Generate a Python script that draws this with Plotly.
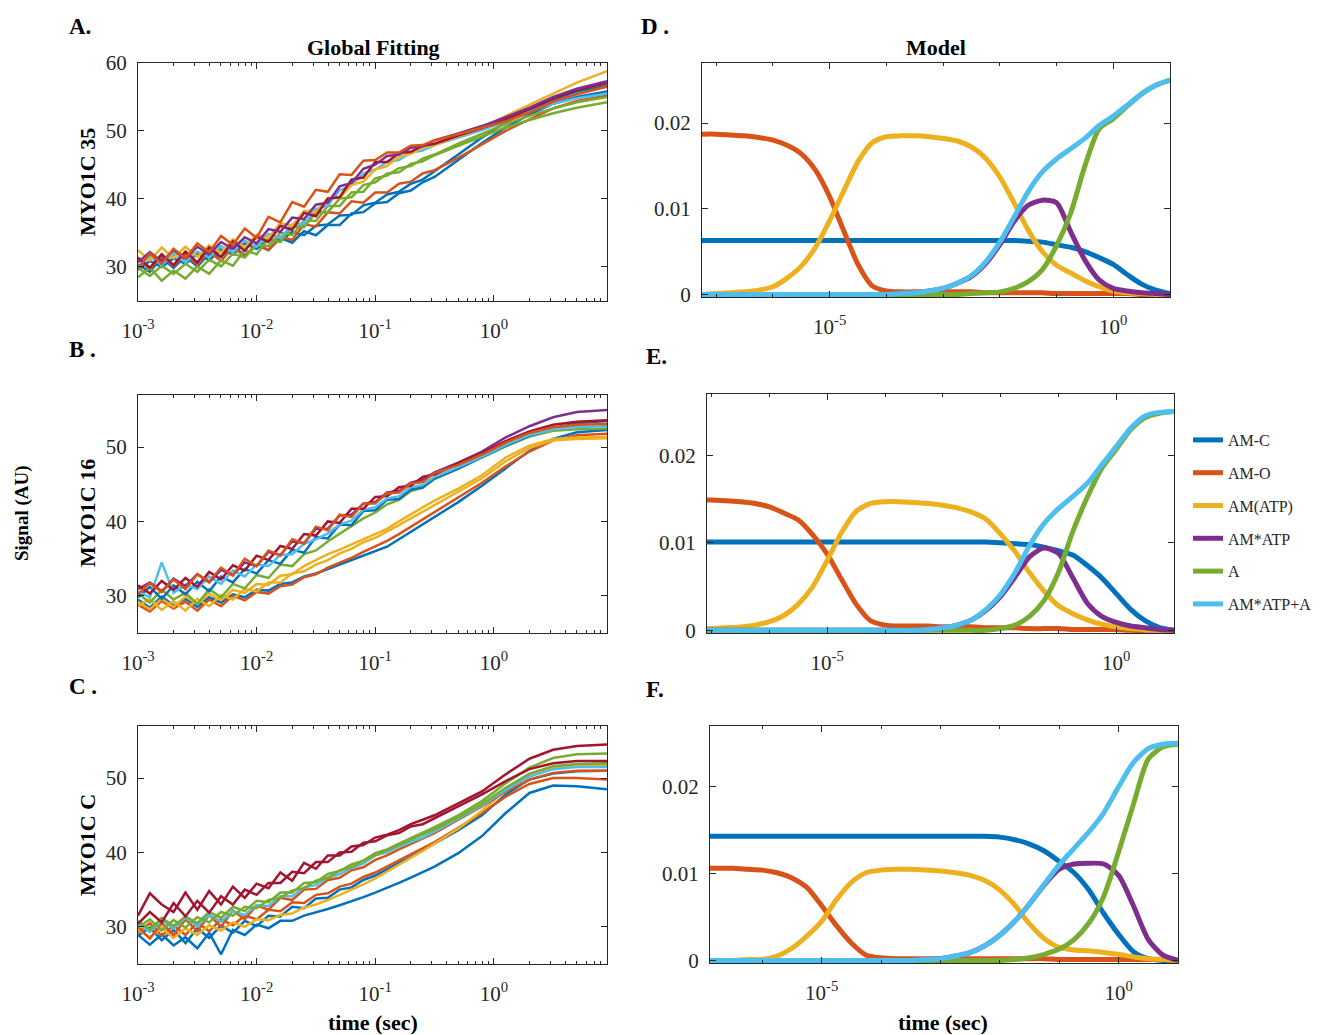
import plotly.graph_objects as go

# ---------------- data: left column (signal traces) ----------------
T_LEFT_LOG = [-3.0, -2.9, -2.8, -2.7, -2.6, -2.5, -2.4, -2.3, -2.2, -2.1, -2.0, -1.9, -1.8, -1.7,
              -1.6, -1.5, -1.4, -1.3, -1.2, -1.1, -1.0, -0.9, -0.8, -0.7, -0.6, -0.5, -0.3, -0.1,
              0.1, 0.3, 0.5, 0.7, 0.954]

A_BLUE1 = [30.3, 29.2, 31.3, 29.8, 31.5, 30.0, 31.9, 31.4, 33.1, 31.6, 33.1, 32.4, 34.2, 33.5, 35.2, 34.6, 36.1, 36.1, 37.8, 38.0, 39.3, 39.5, 40.8, 41.2, 42.4, 43.2, 45.7, 48.2, 50.5, 52.4, 54.0, 55.0, 55.8]
A_BLUE2 = [29.5, 30.8, 29.9, 31.2, 30.4, 31.9, 30.9, 32.5, 31.8, 33.4, 32.6, 34.0, 33.7, 35.1, 34.6, 36.0, 36.2, 37.5, 37.6, 39.0, 39.4, 40.6, 41.0, 42.2, 42.8, 44.0, 46.5, 49.0, 51.3, 53.1, 54.6, 55.8, 56.6]
A_ORANGE_LOW = [31.2, 29.6, 31.5, 30.1, 31.8, 30.3, 32.2, 30.8, 32.8, 31.5, 33.3, 32.4, 34.4, 33.9, 36.2, 35.9, 38.0, 37.8, 39.6, 39.4, 40.9, 40.9, 42.2, 42.5, 43.7, 44.2, 46.0, 48.0, 50.0, 51.7, 53.3, 54.4, 55.2]
A_GREEN1 = [28.4, 29.8, 27.9, 29.4, 28.2, 30.0, 28.9, 30.9, 30.1, 32.4, 31.8, 34.1, 33.6, 35.9, 35.8, 38.0, 38.0, 40.0, 40.2, 42.0, 42.4, 43.7, 43.9, 45.1, 45.5, 46.4, 47.8, 49.2, 50.5, 51.6, 52.6, 53.4, 54.2]
A_GREEN2 = [29.8, 28.6, 30.1, 28.9, 30.4, 29.2, 31.0, 30.0, 31.9, 31.3, 33.2, 33.0, 35.0, 34.6, 36.8, 36.7, 38.9, 38.9, 40.9, 41.0, 43.0, 43.4, 44.5, 44.8, 45.9, 46.5, 48.1, 49.6, 51.0, 52.2, 53.3, 54.2, 55.0]
A_LBLUE = [29.9, 31.5, 30.2, 31.9, 30.6, 32.2, 31.3, 33.0, 32.1, 33.8, 32.9, 34.8, 34.2, 36.2, 36.3, 38.5, 39.0, 41.2, 42.0, 43.7, 44.3, 45.4, 45.7, 46.8, 47.1, 47.9, 49.0, 50.1, 51.4, 52.8, 54.0, 54.8, 55.5]
A_YELLOW = [32.4, 30.9, 32.8, 31.2, 32.9, 31.4, 33.1, 32.0, 34.0, 32.8, 34.7, 34.2, 36.4, 36.0, 38.2, 38.0, 40.1, 40.1, 42.0, 42.5, 44.3, 44.8, 46.2, 46.6, 47.5, 47.9, 49.2, 50.4, 52.2, 53.9, 55.5, 57.1, 58.8]
A_DRED = [31.3, 29.8, 31.8, 30.2, 32.2, 30.6, 32.8, 31.4, 33.7, 32.3, 34.4, 33.6, 36.0, 35.4, 37.9, 37.4, 40.0, 40.2, 42.8, 43.1, 45.4, 45.4, 46.7, 46.9, 47.8, 48.1, 49.3, 50.4, 51.7, 53.2, 54.8, 56.0, 57.0]
A_PURPLE = [30.6, 32.1, 30.7, 32.4, 31.1, 32.9, 31.8, 33.6, 32.6, 34.3, 33.4, 35.5, 35.1, 37.2, 37.0, 39.1, 39.4, 41.8, 42.3, 44.4, 45.0, 46.3, 46.5, 47.5, 47.7, 48.6, 49.6, 50.7, 52.0, 53.4, 55.0, 56.2, 57.3]
A_ORANGE_TOP = [29.7, 31.9, 30.4, 32.6, 31.2, 33.4, 32.1, 34.5, 33.2, 35.6, 34.2, 37.3, 36.5, 39.5, 38.8, 41.3, 41.0, 43.6, 43.5, 45.6, 45.7, 46.8, 46.8, 47.8, 47.9, 48.6, 49.5, 50.4, 51.4, 52.7, 54.3, 55.4, 56.5]

B_BLUE_LOW = [29.5, 28.4, 29.9, 28.7, 29.6, 28.5, 29.8, 29.1, 30.2, 29.8, 30.8, 30.7, 31.6, 31.8, 32.6, 33.0, 33.6, 34.2, 34.7, 35.4, 35.9, 36.6, 37.6, 38.6, 39.6, 40.6, 42.6, 44.8, 47.2, 49.5, 51.1, 52.0, 52.3]
B_ORANGE_LOW = [28.8, 27.9, 29.3, 28.3, 29.2, 28.0, 29.5, 28.6, 30.0, 29.4, 30.5, 30.3, 31.3, 31.5, 32.5, 32.9, 33.8, 34.4, 35.1, 35.9, 36.6, 37.4, 38.3, 39.3, 40.3, 41.3, 43.2, 45.2, 47.4, 49.4, 50.9, 51.6, 51.8]
B_YELLOW2 = [28.6, 29.6, 28.1, 29.3, 28.0, 29.6, 28.6, 30.1, 29.5, 30.9, 30.6, 31.8, 31.8, 33.0, 33.3, 34.2, 34.8, 35.7, 36.3, 37.2, 37.8, 38.6, 39.5, 40.4, 41.3, 42.2, 43.9, 45.8, 48.1, 49.9, 50.9, 51.1, 51.2]
B_YELLOW1 = [29.2, 28.2, 29.6, 28.5, 29.9, 28.9, 30.3, 29.4, 30.8, 30.4, 31.6, 31.5, 32.7, 32.9, 34.0, 34.8, 35.6, 36.2, 36.9, 37.7, 38.3, 39.0, 40.0, 41.0, 41.9, 42.8, 44.4, 46.2, 48.6, 50.2, 51.1, 51.3, 51.4]
B_GREEN = [30.3, 29.1, 30.8, 29.5, 30.4, 28.9, 30.9, 29.8, 31.6, 31.0, 32.8, 32.4, 34.2, 34.0, 35.6, 36.1, 37.3, 38.3, 39.3, 40.4, 41.2, 42.3, 42.9, 44.1, 44.5, 45.7, 47.1, 48.6, 50.1, 51.4, 52.2, 52.4, 52.5]
B_BLUE_UP = [29.8, 31.2, 29.6, 31.4, 30.2, 31.9, 30.6, 32.6, 31.8, 33.6, 33.0, 34.8, 34.3, 36.2, 35.8, 37.9, 37.7, 39.6, 39.5, 41.4, 41.5, 42.9, 43.0, 44.3, 44.6, 45.8, 47.1, 48.6, 50.2, 51.5, 52.5, 53.2, 53.5]
B_LBLUE = [30.6, 29.8, 34.5, 30.4, 31.5, 30.9, 32.6, 31.6, 33.4, 32.6, 34.2, 34.0, 35.5, 35.6, 37.0, 37.6, 38.4, 39.6, 40.1, 41.6, 41.9, 43.1, 43.4, 44.6, 44.9, 46.0, 47.3, 48.7, 50.3, 51.6, 52.4, 52.7, 52.8]
B_PURPLE = [30.9, 31.8, 30.6, 32.3, 31.3, 32.9, 31.8, 33.5, 32.8, 34.5, 34.0, 35.9, 35.5, 37.3, 37.1, 39.0, 39.0, 40.8, 40.9, 42.4, 42.6, 43.9, 44.1, 45.2, 45.6, 46.6, 47.9, 49.4, 51.3, 52.8, 54.0, 54.7, 55.0]
B_DRED = [31.4, 30.3, 32.0, 30.8, 32.4, 31.2, 33.2, 32.2, 34.1, 33.4, 35.4, 34.8, 36.7, 36.3, 38.3, 38.1, 40.0, 39.8, 41.7, 41.7, 43.3, 43.4, 44.6, 44.8, 46.0, 46.3, 47.8, 49.2, 50.8, 52.1, 53.0, 53.4, 53.6]
B_ORANGE_UP = [30.2, 31.7, 30.5, 32.2, 30.9, 32.9, 31.9, 33.8, 32.7, 35.0, 34.0, 36.1, 35.4, 37.6, 37.0, 39.3, 38.8, 40.9, 40.6, 42.4, 42.4, 43.8, 43.9, 45.1, 45.3, 46.5, 47.6, 49.0, 50.6, 51.9, 52.7, 53.0, 53.1]

C_BLUE_LOW = [28.9, 27.6, 29.0, 27.5, 28.6, 27.1, 29.2, 26.3, 29.6, 28.9, 30.3, 29.8, 30.8, 30.8, 31.5, 31.9, 32.4, 32.9, 33.4, 34.0, 34.6, 35.2, 35.9, 36.6, 37.3, 38.1, 39.9, 42.2, 45.3, 48.0, 49.0, 48.9, 48.5]
C_BLUE1 = [28.8, 29.9, 28.2, 29.6, 27.8, 29.8, 28.5, 30.2, 29.2, 30.8, 30.1, 31.5, 31.4, 32.7, 32.5, 33.8, 33.9, 35.0, 35.3, 36.3, 36.9, 37.8, 38.6, 39.4, 40.3, 41.2, 43.0, 45.0, 47.8, 49.8, 50.6, 50.9, 51.0]
C_ORANGE2 = [29.2, 30.5, 28.8, 30.2, 28.9, 30.6, 29.4, 31.0, 30.2, 31.5, 31.0, 32.3, 32.1, 33.3, 33.2, 34.3, 34.5, 35.4, 35.8, 36.7, 37.3, 38.1, 38.9, 39.7, 40.5, 41.4, 43.3, 45.3, 47.5, 49.2, 50.0, 50.0, 49.8]
C_YELLOW = [29.6, 28.6, 29.9, 28.5, 29.8, 28.9, 30.2, 29.5, 30.6, 30.0, 31.0, 30.9, 31.6, 31.8, 32.6, 33.0, 33.6, 34.3, 34.9, 35.7, 36.5, 37.4, 38.4, 39.3, 40.2, 41.2, 43.2, 45.6, 48.4, 50.4, 51.4, 51.7, 51.8]
C_ORANGE1 = [30.0, 28.4, 30.5, 28.9, 31.0, 29.4, 31.6, 30.0, 32.2, 31.0, 32.9, 32.3, 33.9, 33.6, 35.0, 35.1, 36.3, 36.6, 37.6, 38.0, 39.0, 39.6, 40.4, 41.1, 41.8, 42.6, 44.4, 46.2, 48.2, 49.8, 50.7, 51.0, 51.0]
C_LBLUE = [30.4, 29.3, 30.9, 29.8, 31.2, 30.1, 31.6, 30.7, 32.1, 31.6, 32.9, 32.8, 34.1, 34.1, 35.3, 35.6, 36.6, 37.1, 37.9, 38.5, 39.6, 40.0, 40.8, 41.4, 42.0, 42.8, 44.5, 46.3, 48.4, 50.2, 51.2, 51.5, 51.5]
C_GREEN2 = [29.9, 31.0, 29.5, 30.9, 29.9, 31.3, 30.6, 32.0, 31.5, 32.7, 32.5, 33.6, 33.9, 34.9, 35.2, 36.2, 36.6, 37.6, 38.0, 38.9, 39.6, 40.3, 41.0, 41.7, 42.4, 43.1, 44.7, 46.5, 48.7, 50.6, 51.6, 51.9, 52.0]
C_GREEN1 = [30.8, 29.6, 31.2, 30.1, 31.4, 30.5, 32.0, 31.2, 32.7, 32.1, 33.5, 33.3, 34.6, 34.6, 35.9, 36.0, 37.1, 37.5, 38.4, 38.9, 39.9, 40.4, 41.2, 41.9, 42.6, 43.4, 45.0, 46.9, 49.3, 51.4, 52.7, 53.2, 53.3]
C_DRED2 = [30.4, 32.0, 30.6, 33.2, 31.4, 33.5, 31.9, 34.1, 33.0, 35.0, 34.3, 35.9, 35.9, 37.4, 37.2, 38.7, 38.7, 40.0, 40.1, 41.3, 41.5, 42.3, 42.6, 43.5, 43.8, 44.6, 46.1, 47.8, 49.6, 51.2, 52.0, 52.3, 52.3]
C_DRED1 = [31.5, 34.5, 33.0, 32.0, 34.6, 32.3, 34.8, 33.0, 35.4, 33.9, 35.8, 35.2, 37.3, 36.2, 38.6, 37.8, 39.6, 39.6, 40.8, 41.0, 42.0, 42.4, 43.0, 43.8, 44.4, 45.0, 46.6, 48.2, 50.5, 52.6, 53.8, 54.3, 54.5]

# ---------------- data: right column (model) ----------------
T_MODEL_LOG = [-7.25, -7.0, -6.75, -6.5, -6.25, -6.0, -5.75, -5.5, -5.25, -5.0, -4.75, -4.5, -4.25,
               -4.0, -3.75, -3.5, -3.25, -3.0, -2.75, -2.5, -2.25, -2.0, -1.75, -1.5, -1.25, -1.0,
               -0.75, -0.5, -0.25, 0.0, 0.25, 0.5, 0.75, 1.0]
SPECIES = ["AM-C", "AM-O", "AM(ATP)", "AM*ATP", "A", "AM*ATP+A"]

D_AMC = [0.0063, 0.0063, 0.0063, 0.0063, 0.0063, 0.0063, 0.0063, 0.0063, 0.0063, 0.0063, 0.0063, 0.0063, 0.0063, 0.0063, 0.0063, 0.0063, 0.0063, 0.0063, 0.0063, 0.0063, 0.0063, 0.0063, 0.0063, 0.0062, 0.0061, 0.0058, 0.0055, 0.0050, 0.0043, 0.0035, 0.0023, 0.0012, 0.0005, 0.0001]
D_AMO = [0.0187, 0.0187, 0.0186, 0.0185, 0.0183, 0.0180, 0.0174, 0.0164, 0.0145, 0.0114, 0.0074, 0.0035, 0.0010, 0.0004, 0.0003, 0.0003, 0.0003, 0.0003, 0.0003, 0.0003, 0.0002, 0.0002, 0.0002, 0.0002, 0.0002, 0.0001, 0.0001, 0.0001, 0.0001, 0.0001, 0.0001, 0.0, 0.0, 0.0]
D_ATP = [0.0, 0.0001, 0.0002, 0.0003, 0.0005, 0.0009, 0.0019, 0.0033, 0.0055, 0.0086, 0.0121, 0.0155, 0.0177, 0.0184, 0.0185, 0.0185, 0.0184, 0.0182, 0.0179, 0.0172, 0.0159, 0.0137, 0.0107, 0.0075, 0.0050, 0.0034, 0.0025, 0.0016, 0.0009, 0.0004, 0.0002, 0.0001, 0.0, 0.0]
D_ATPS = [0.0, 0.0, 0.0, 0.0, 0.0, 0.0, 0.0, 0.0, 0.0, 0.0, 0.0, 0.0, 0.0, 0.0, 0.0001, 0.0002, 0.0004, 0.0007, 0.0013, 0.0021, 0.0036, 0.0058, 0.0085, 0.0104, 0.0110, 0.0107, 0.0073, 0.0040, 0.0017, 0.0007, 0.0004, 0.0002, 0.0001, 0.0]
D_A = [0.0, 0.0, 0.0, 0.0, 0.0, 0.0, 0.0, 0.0, 0.0, 0.0, 0.0, 0.0, 0.0, 0.0, 0.0, 0.0, 0.0, 0.0, 0.0, 0.0001, 0.0002, 0.0003, 0.0007, 0.0015, 0.0029, 0.0057, 0.0095, 0.0150, 0.0193, 0.0205, 0.0220, 0.0234, 0.0244, 0.0250]
D_ATPA = [0.0, 0.0, 0.0, 0.0, 0.0, 0.0, 0.0, 0.0, 0.0, 0.0, 0.0, 0.0, 0.0, 0.0, 0.0001, 0.0002, 0.0004, 0.0007, 0.0013, 0.0022, 0.0038, 0.0061, 0.0090, 0.0120, 0.0143, 0.0158, 0.0170, 0.0182, 0.0197, 0.0208, 0.0221, 0.0234, 0.0244, 0.0250]

E_AMC = [0.0101, 0.0101, 0.0101, 0.0101, 0.0101, 0.0101, 0.0101, 0.0101, 0.0101, 0.0101, 0.0101, 0.0101, 0.0101, 0.0101, 0.0101, 0.0101, 0.0101, 0.0101, 0.0101, 0.0101, 0.0101, 0.0100, 0.0099, 0.0098, 0.0095, 0.0091, 0.0086, 0.0074, 0.0060, 0.0042, 0.0024, 0.0011, 0.0003, 0.0]
E_AMO = [0.0149, 0.0149, 0.0148, 0.0147, 0.0145, 0.0141, 0.0134, 0.0126, 0.0109, 0.0087, 0.0058, 0.0030, 0.0011, 0.0006, 0.0005, 0.0005, 0.0005, 0.0004, 0.0004, 0.0004, 0.0003, 0.0003, 0.0003, 0.0002, 0.0002, 0.0002, 0.0001, 0.0001, 0.0001, 0.0001, 0.0, 0.0, 0.0, 0.0]
E_ATP = [0.0002, 0.0002, 0.0003, 0.0004, 0.0006, 0.0010, 0.0017, 0.0030, 0.0050, 0.0080, 0.0112, 0.0136, 0.0145, 0.0147, 0.0147, 0.0146, 0.0145, 0.0143, 0.0140, 0.0135, 0.0127, 0.0110, 0.0090, 0.0066, 0.0045, 0.0028, 0.0019, 0.0012, 0.0007, 0.0004, 0.0002, 0.0001, 0.0, 0.0]
E_ATPS = [0.0, 0.0, 0.0, 0.0, 0.0, 0.0, 0.0, 0.0, 0.0, 0.0, 0.0, 0.0, 0.0, 0.0, 0.0, 0.0, 0.0001, 0.0003, 0.0006, 0.0012, 0.0023, 0.0039, 0.0061, 0.0084, 0.0094, 0.0088, 0.0060, 0.0031, 0.0016, 0.0009, 0.0005, 0.0003, 0.0001, 0.0]
E_A = [0.0, 0.0, 0.0, 0.0, 0.0, 0.0, 0.0, 0.0, 0.0, 0.0, 0.0, 0.0, 0.0, 0.0, 0.0, 0.0, 0.0, 0.0, 0.0, 0.0, 0.0, 0.0002, 0.0006, 0.0016, 0.0034, 0.0066, 0.0113, 0.0152, 0.0185, 0.0207, 0.0229, 0.0243, 0.0248, 0.0250]
E_ATPA = [0.0, 0.0, 0.0, 0.0, 0.0, 0.0, 0.0, 0.0, 0.0, 0.0, 0.0, 0.0, 0.0, 0.0, 0.0, 0.0, 0.0001, 0.0003, 0.0006, 0.0012, 0.0024, 0.0041, 0.0066, 0.0097, 0.0122, 0.0139, 0.0153, 0.0168, 0.0189, 0.0210, 0.0231, 0.0245, 0.0249, 0.0250]

F_AMC = [0.0143, 0.0143, 0.0143, 0.0143, 0.0143, 0.0143, 0.0143, 0.0143, 0.0143, 0.0143, 0.0143, 0.0143, 0.0143, 0.0143, 0.0143, 0.0143, 0.0143, 0.0143, 0.0143, 0.0143, 0.0143, 0.0142, 0.0139, 0.0134, 0.0126, 0.0114, 0.0101, 0.0081, 0.0054, 0.0030, 0.0010, 0.0002, 0.0, 0.0]
F_AMO = [0.0106, 0.0106, 0.0106, 0.0106, 0.0105, 0.0104, 0.0101, 0.0095, 0.0084, 0.0063, 0.0040, 0.0020, 0.0006, 0.0003, 0.0002, 0.0002, 0.0002, 0.0002, 0.0002, 0.0002, 0.0002, 0.0002, 0.0002, 0.0002, 0.0002, 0.0001, 0.0001, 0.0001, 0.0001, 0.0001, 0.0001, 0.0001, 0.0001, 0.0]
F_ATP = [0.0, 0.0, 0.0, 0.0, 0.0001, 0.0001, 0.0005, 0.0014, 0.0028, 0.0045, 0.0070, 0.0090, 0.0101, 0.0104, 0.0105, 0.0105, 0.0104, 0.0103, 0.0101, 0.0098, 0.0092, 0.0081, 0.0064, 0.0042, 0.0025, 0.0015, 0.0012, 0.0011, 0.0009, 0.0007, 0.0004, 0.0002, 0.0001, 0.0]
F_ATPS = [0.0, 0.0, 0.0, 0.0, 0.0, 0.0, 0.0, 0.0, 0.0, 0.0, 0.0, 0.0, 0.0, 0.0, 0.0, 0.0, 0.0001, 0.0002, 0.0005, 0.0009, 0.0017, 0.0029, 0.0045, 0.0065, 0.0087, 0.0105, 0.0111, 0.0112, 0.0111, 0.0098, 0.0063, 0.0024, 0.0006, 0.0]
F_A = [0.0, 0.0, 0.0, 0.0, 0.0, 0.0, 0.0, 0.0, 0.0, 0.0, 0.0, 0.0, 0.0, 0.0, 0.0, 0.0, 0.0, 0.0, 0.0, 0.0, 0.0, 0.0, 0.0001, 0.0003, 0.0007, 0.0013, 0.0024, 0.0043, 0.0074, 0.0125, 0.0180, 0.0232, 0.0246, 0.0249]
F_ATPA = [0.0, 0.0, 0.0, 0.0, 0.0, 0.0, 0.0, 0.0, 0.0, 0.0, 0.0, 0.0, 0.0, 0.0, 0.0, 0.0, 0.0001, 0.0002, 0.0005, 0.0009, 0.0017, 0.0029, 0.0045, 0.0065, 0.0088, 0.0110, 0.0129, 0.0148, 0.0170, 0.0200, 0.0228, 0.0244, 0.0249, 0.0250]

# ---------------- style ----------------
FONT = "Liberation Serif"
AX = "#262626"
BLUE, ORANGE, YELLOW, PURPLE = "#0072BD", "#D95319", "#EDB120", "#7E2F8E"
GREEN, LBLUE, DRED = "#77AC30", "#4DBEEE", "#A2142F"
SPEC_COLORS = [BLUE, ORANGE, YELLOW, PURPLE, GREEN, LBLUE]
OFF = 8                      # page body margin offset
W, H = 1325 - OFF, 1035 - OFF


def px(x):
    return (x - OFF) / W


def py(y):
    return 1 - (y - OFF) / H


t_left = [10 ** v for v in T_LEFT_LOG]
t_model = [10 ** v for v in T_MODEL_LOG]

fig = go.Figure()

left_sets = [
    ("x", "y", [(A_BLUE1, BLUE), (A_BLUE2, BLUE), (A_ORANGE_LOW, ORANGE), (A_GREEN1, GREEN),
                (A_GREEN2, GREEN), (A_LBLUE, LBLUE), (A_YELLOW, YELLOW), (A_DRED, DRED),
                (A_PURPLE, PURPLE), (A_ORANGE_TOP, ORANGE)]),
    ("x2", "y2", [(B_BLUE_LOW, BLUE), (B_ORANGE_LOW, ORANGE), (B_YELLOW2, YELLOW), (B_YELLOW1, YELLOW),
                  (B_GREEN, GREEN), (B_BLUE_UP, BLUE), (B_LBLUE, LBLUE), (B_PURPLE, PURPLE),
                  (B_DRED, DRED), (B_ORANGE_UP, ORANGE)]),
    ("x3", "y3", [(C_BLUE_LOW, BLUE), (C_BLUE1, BLUE), (C_ORANGE2, ORANGE), (C_YELLOW, YELLOW),
                  (C_ORANGE1, ORANGE), (C_LBLUE, LBLUE), (C_GREEN2, GREEN), (C_GREEN1, GREEN),
                  (C_DRED2, DRED), (C_DRED1, DRED)]),
]
for xa, ya, traces in left_sets:
    for vals, col in traces:
        fig.add_trace(go.Scatter(x=t_left, y=vals, mode="lines", xaxis=xa, yaxis=ya,
                                 line=dict(color=col, width=2.5), showlegend=False, hoverinfo="skip"))

model_sets = [
    ("x4", "y4", [D_AMC, D_AMO, D_ATP, D_ATPS, D_A, D_ATPA], False),
    ("x5", "y5", [E_AMC, E_AMO, E_ATP, E_ATPS, E_A, E_ATPA], True),
    ("x6", "y6", [F_AMC, F_AMO, F_ATP, F_ATPS, F_A, F_ATPA], False),
]
for xa, ya, series, leg in model_sets:
    for name, vals, col in zip(SPECIES, series, SPEC_COLORS):
        fig.add_trace(go.Scatter(x=t_model, y=vals, mode="lines", xaxis=xa, yaxis=ya, name=name,
                                 legendgroup=name, showlegend=leg,
                                 line=dict(color=col, width=5, shape="spline", smoothing=0.7),
                                 hoverinfo="skip"))


def axis(**kw):
    d = dict(showline=True, linecolor=AX, linewidth=1, mirror="ticks", ticks="inside", ticklen=6,
             tickwidth=1, tickcolor=AX, tickfont=dict(family=FONT, size=21, color=AX),
             showgrid=False, zeroline=False, fixedrange=True, automargin=False)
    d.update(kw)
    return d


minor_left = [k * 10 ** e for e in (-3, -2, -1, 0) for k in range(2, 10)]
minor_right = [10 ** e for e in range(-7, 2)]
left_ticks = dict(tickmode="array", tickvals=[1e-3, 1e-2, 1e-1, 1],
                  ticktext=["10<sup>-3</sup>", "10<sup>-2</sup>", "10<sup>-1</sup>", "10<sup>0</sup>"],
                  minor=dict(tickmode="array", tickvals=minor_left, ticks="inside", ticklen=3,
                             tickcolor=AX))
right_ticks = dict(tickmode="array", tickvals=[1e-5, 1], ticktext=["10<sup>-5</sup>", "10<sup>0</sup>"],
                   minor=dict(tickmode="array", tickvals=minor_right, ticks="inside", ticklen=3,
                              tickcolor=AX))

left_x = [138, 607]
boxes_left = [(63, 301), (395, 633), (726, 964)]
yr_left = [[24.9, 60], [25.0, 57.0], [25.0, 57.0]]
yt_left = [[30, 40, 50, 60], [30, 40, 50], [30, 40, 50]]
right_boxes = [((702, 1170), (63, 297), [-7.25, 1.0]),
               ((707, 1174), (394, 633), [-7.08, 1.0]),
               ((710, 1178), (726, 963), [-6.88, 1.0])]

lay = {}
for i in range(3):
    n = "" if i == 0 else str(i + 1)
    top, bot = boxes_left[i]
    lay["xaxis" + n] = axis(type="log", range=[-3, 0.954], domain=[px(left_x[0]), px(left_x[1])],
                            anchor="y" + n, ticklabelstandoff=11, **left_ticks)
    lay["yaxis" + n] = axis(range=yr_left[i], domain=[py(bot), py(top)], anchor="x" + n,
                            tickmode="array", tickvals=yt_left[i], ticklabelstandoff=6)
for j, ((xl, xr), (top, bot), xr_rng) in enumerate(right_boxes):
    n = str(j + 4)
    lay["xaxis" + n] = axis(type="log", range=xr_rng, domain=[px(xl), px(xr)], anchor="y" + n,
                            ticklabelstandoff=11, **right_ticks)
    lay["yaxis" + n] = axis(range=[-0.0003, 0.027], domain=[py(bot), py(top)], anchor="x" + n,
                            tickmode="array", tickvals=[0, 0.01, 0.02], ticktext=["0", "0.01", "0.02"],
                            ticklabelstandoff=6)

ann = []


def add_text(text, x, y, size=21, angle=0, xanchor="center", bold=True):
    ann.append(dict(text=("<b>%s</b>" % text) if bold else text, x=px(x), y=py(y), xref="paper",
                    yref="paper", showarrow=False, textangle=angle, xanchor=xanchor, yanchor="middle",
                    font=dict(family=FONT, size=size, color="black")))


add_text("A.", 67, 26, size=23, xanchor="left")
add_text("B .", 67, 350, size=23, xanchor="left")
add_text("C .", 67, 686, size=23, xanchor="left")
add_text("D .", 639, 27, size=23, xanchor="left")
add_text("E.", 644, 356, size=23, xanchor="left")
add_text("F.", 644, 689, size=23, xanchor="left")
add_text("Global Fitting", 373, 48, size=22)
add_text("Model", 936, 48, size=22)
add_text("MYO1C 35", 87, 182, size=22, angle=-90)
add_text("MYO1C 16", 87, 513, size=22, angle=-90)
add_text("MYO1C C", 87, 845, size=22, angle=-90)
add_text("Signal (AU)", 22, 513, size=19, angle=-90)
add_text("time (sec)", 373, 1022, size=22)
add_text("time (sec)", 943, 1022, size=22)

fig.update_layout(
    width=W, height=H, margin=dict(l=0, r=0, t=0, b=0, autoexpand=False),
    paper_bgcolor="white", plot_bgcolor="white",
    annotations=ann,
    legend=dict(x=px(1188), y=py(423), xanchor="left", yanchor="top", traceorder="grouped",
                tracegroupgap=9, font=dict(family=FONT, size=16, color=AX),
                bgcolor="rgba(0,0,0,0)", borderwidth=0, itemwidth=30),
    **lay,
)

fig.write_html("out.html")
